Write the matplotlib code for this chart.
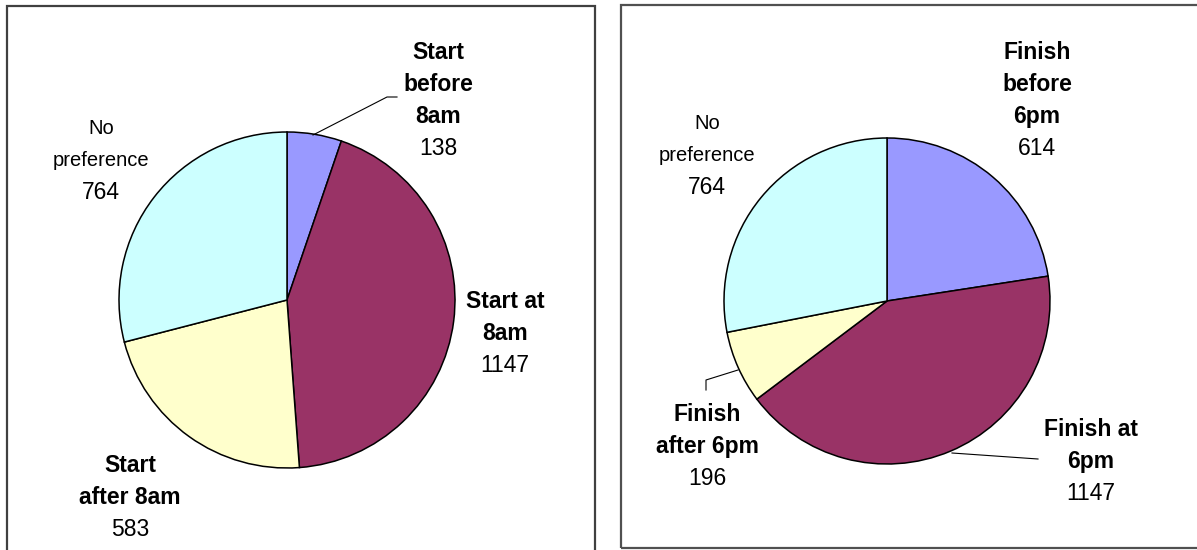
import matplotlib
matplotlib.use("Agg")
import matplotlib.pyplot as plt
from matplotlib.patches import Rectangle

# ---------------- data ----------------
start_categories = ["Start before 8am", "Start at 8am", "Start after 8am", "No preference"]
start_values = [138, 1147, 583, 764]
finish_categories = ["Finish before 6pm", "Finish at 6pm", "Finish after 6pm", "No preference"]
finish_values = [614, 1147, 196, 764]
slice_colors = ["#9999FF", "#993366", "#FFFFCC", "#CCFFFF"]

# label line breaks (name lines in bold, value below)
start_label_lines = [["Start", "before", "8am"], ["Start at", "8am"], ["Start", "after 8am"], ["No", "preference"]]
finish_label_lines = [["Finish", "before", "6pm"], ["Finish at", "6pm"], ["Finish", "after 6pm"], ["No", "preference"]]

# ---------------- layout ----------------
W, H = 1197, 550
plt.rcParams['font.family'] = ['Liberation Sans', 'DejaVu Sans']
fig = plt.figure(figsize=(W / 100, H / 100), dpi=100)
ax = fig.add_axes([0, 0, 1, 1])

def Y(y):
    return H - y

# boxes
ax.add_patch(Rectangle((7, Y(570)), 588, 564, fill=False, edgecolor="#404040", linewidth=1.6))
ax.add_patch(Rectangle((621, Y(548)), 600, 543, fill=False, edgecolor="#505050", linewidth=1.6))

pies = [
    dict(values=start_values, lines=start_label_lines, center=(287, 300), r=168,
         pos=[(438, 51), (505, 300), (130, 464), (101, 127)]),
    dict(values=finish_values, lines=finish_label_lines, center=(887, 301), r=163,
         pos=[(1037, 51), (1091, 428), (707, 413), (707, 122)]),
]

spacing = 32
for p in pies:
    cx, cy = p["center"]
    ax.pie(p["values"], colors=slice_colors, startangle=90, counterclock=False,
           center=(cx, Y(cy)), radius=p["r"],
           wedgeprops=dict(edgecolor="black", linewidth=1.1))
    for name_lines, val, (lx, ly) in zip(p["lines"], p["values"], p["pos"]):
        is_nopref = name_lines[0] == "No"
        for i, t in enumerate(name_lines + [str(val)]):
            is_value = i == len(name_lines)
            if is_nopref and not is_value:
                fs, fw = 14.5, "normal"
            elif is_value:
                fs, fw = 16.5, "normal"
            else:
                fs, fw = 16.5, "bold"
            em = fs * 100 / 72
            ycen = ly + i * spacing
            ax.text(lx, Y(ycen + 0.358 * em), t, ha="center", va="baseline",
                    fontsize=fs, fontweight=fw, color="black")

# leader lines
ax.plot([313, 387, 397], [Y(135), Y(97), Y(97)], color="black", linewidth=0.8)
ax.plot([738, 706, 706], [Y(370), Y(380), Y(390)], color="black", linewidth=0.8)
ax.plot([952, 1038], [Y(453), Y(459)], color="black", linewidth=0.8)

ax.set_xlim(0, W)
ax.set_ylim(0, H)
ax.set_aspect("auto")
ax.axis("off")
fig.savefig("out.png", dpi=100, facecolor="white")
